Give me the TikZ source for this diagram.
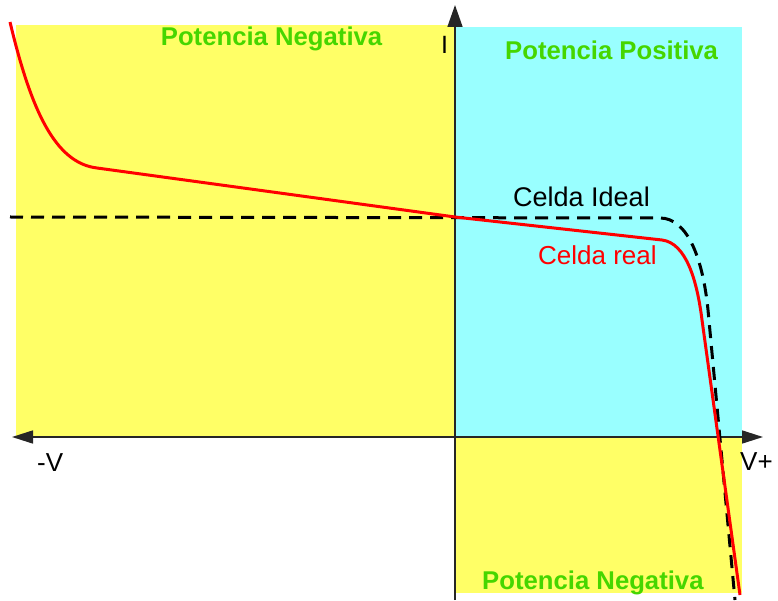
\documentclass[tikz,border=0pt]{standalone}
\usepackage{fontspec}
\setmainfont{Liberation Sans}
\usetikzlibrary{arrows.meta}
\definecolor{amarillo}{RGB}{255,255,102}
\definecolor{celeste}{RGB}{153,255,255}
\definecolor{verde}{RGB}{70,214,0}
\tikzset{
	eje/.style={line width=1.6pt, draw=black!85},
	zona/.style={font=\fontsize{25.7}{30}\selectfont\bfseries, text=verde, inner sep=0pt, anchor=base west},
	rotulo/.style={inner sep=0pt, anchor=base west},
	ideal/.style={line width=3pt, black, dash pattern=on 13pt off 8pt},
	real/.style={line width=3pt, red}
}
\begin{document}
\begin{tikzpicture}[x=1pt, y=-1pt]
		\useasboundingbox (0,0) rectangle (778,601);
		\begin{scope}
				
				% Zonas
				\fill[amarillo] (16,25) rectangle (455,437);
				\fill[celeste] (455,27) rectangle (742,437);
				\fill[amarillo] (455,437) rectangle (742,593);
				
				% Ejes
				\coordinate (vneg) at (12,437);
				\coordinate (vpos) at (763,437);
				\coordinate (ibot) at (455,600);
				\coordinate (itop) at (455,5);
				\draw[eje, {Triangle[length=21pt, width=13pt]}-{Triangle[length=21pt, width=13pt]}] (vneg) -- (vpos);
				\draw[eje, -{Triangle[length=22pt, width=15pt]}] (ibot) -- (itop);
				
				% Curvas
				\draw[ideal] (10,217) -- (660,218) .. controls (688,218) and (703,260) .. (708,310) -- (735,600);
				\draw[real] (10,22) .. controls (31,110) and (55,163) .. (97,168) -- (455,217) -- (662,240) .. controls (686,243) and (697,280) .. (702,320) -- (740,595);
				
				% Textos
				\node[zona] at (160.7,46) (negsup) {Potencia Negativa};
				\node[zona] at (505,60) (pos) {Potencia Positiva};
				\node[zona] at (482,589) (neginf) {Potencia Negativa};
				\node[rotulo, font=\fontsize{27}{32}\selectfont] at (513,207) (cideal) {Celda Ideal};
				\node[rotulo, font=\fontsize{26}{31}\selectfont, text=red] at (538,265) (creal) {Celda real};
				\node[rotulo, font=\fontsize{25}{30}\selectfont] at (441,54) (i) {I};
				\node[rotulo, font=\fontsize{26}{31}\selectfont] at (37,471) (menosv) {-V};
				\node[rotulo, font=\fontsize{26}{31}\selectfont] at (740,470) (masv) {V+};
		\end{scope}

\end{tikzpicture}
\end{document}
